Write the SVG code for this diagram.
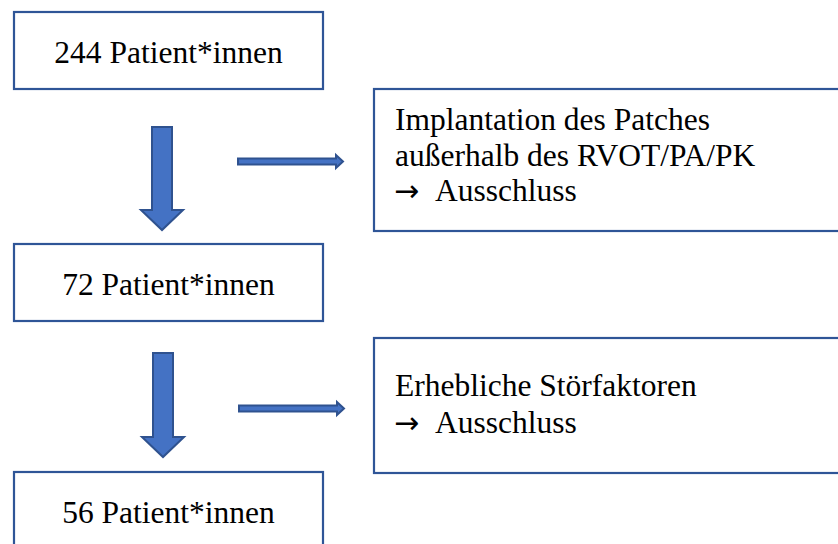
<svg xmlns="http://www.w3.org/2000/svg" width="838" height="544" viewBox="0 0 838 544">
<style>
.box{fill:#fff;stroke:#2F5597;stroke-width:2.2}
.t{font-family:"Liberation Serif","Times New Roman",serif;font-size:31.5px;fill:#000}
.c{text-anchor:middle}
.arr{fill:#4472C4;stroke:#2F528F;stroke-width:2;stroke-linejoin:miter}
.sym{font-family:"DejaVu Sans",sans-serif;font-size:30px}
</style>
<rect width="838" height="544" fill="#fff"/>
<g id="connectors">
<path class="arr" d="M152,127 H172 V210 H183 L162,230 L141,210 H152 Z"/>
<path class="arr" d="M153,353 H173 V437 H184 L163,457 L142,437 H153 Z"/>
<path class="arr" d="M238,158.5 H336 V155 L343,161.5 L336,168 V164.5 H238 Z"/>
<path class="arr" d="M239,405.5 H337 V402 L344,408.5 L337,415 V411.5 H239 Z"/>
</g>
<g id="n244">
<rect class="box" x="14" y="12" width="309" height="77"/>
<text class="t c" x="168.5" y="63">244 Patient*innen</text>
</g>
<g id="n72">
<rect class="box" x="14" y="244" width="309" height="77"/>
<text class="t c" x="168.5" y="295">72 Patient*innen</text>
</g>
<g id="n56">
<rect class="box" x="14" y="472" width="309" height="80"/>
<text class="t c" x="168.5" y="523">56 Patient*innen</text>
</g>
<g id="excl1">
<rect class="box" x="374" y="89" width="480" height="142"/>
<text class="t" x="395" y="130">Implantation des Patches</text>
<text class="t" x="395" y="166">außerhalb des RVOT/PA/PK</text>
<text class="t" x="394" y="201"><tspan class="sym">→</tspan><tspan x="435">Ausschluss</tspan></text>
</g>
<g id="excl2">
<rect class="box" x="374" y="338" width="480" height="135"/>
<text class="t" x="395" y="396">Erhebliche Störfaktoren</text>
<text class="t" x="394" y="433"><tspan class="sym">→</tspan><tspan x="435">Ausschluss</tspan></text>
</g>
</svg>
